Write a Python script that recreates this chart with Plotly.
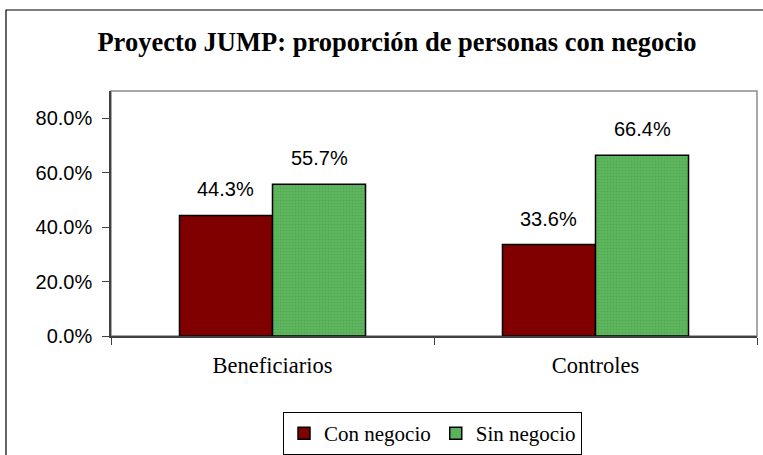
import plotly.graph_objects as go

categories = ["Beneficiarios", "Controles"]
con_negocio = [0.443, 0.336]
sin_negocio = [0.557, 0.664]
series_names = ["Con negocio", "Sin negocio"]
tick_vals = [0.0, 0.2, 0.4, 0.6, 0.8]

W, H = 763, 455
L, R, T, B = 111, 6, 91, 119
BARGAP = 0.424
SERIF = "Liberation Serif, Times New Roman, serif"
SANS = "Liberation Sans, Arial, sans-serif"

fig = go.Figure()
fig.add_trace(go.Bar(
    name=series_names[0], x=categories, y=con_negocio,
    marker=dict(color="#800000", line=dict(color="#000000", width=1.5)),
))
fig.add_trace(go.Bar(
    name=series_names[1], x=categories, y=sin_negocio,
    marker=dict(color="#5DB55D", line=dict(color="#000000", width=1.5),
                pattern=dict(shape=".", fgcolor="#449944", size=3, solidity=0.25, fillmode="overlay")),
))

# data labels placed at the bar tops via data coordinates
ann = []
nser = 2
bw = (1 - BARGAP) / nser
for j, vals in enumerate([con_negocio, sin_negocio]):
    for i, v in enumerate(vals):
        ann.append(dict(
            x=i + (-(1 - BARGAP) / 2 + bw * (j + 0.5)), y=v, xref="x", yref="y",
            text=f"{v*100:.1f}%", showarrow=False, yshift=26, yanchor="middle",
            font=dict(family=SANS, size=20, color="#000000"),
        ))

pw = W - L - R
ph = H - T - B
def px2x(px):
    return (px - L) / pw
def py2y(py):
    return (H - B - py) / ph

shapes = [
    # outer chart frame
    dict(type="rect", xref="paper", yref="paper",
         x0=px2x(6), x1=px2x(800), y0=py2y(470), y1=py2y(10),
         line=dict(color="#000000", width=1.2), layer="below"),
    # plot area border
    dict(type="rect", xref="paper", yref="paper", x0=0, x1=1, y0=0, y1=1,
         line=dict(color="#8c8c8c", width=1.5), layer="below"),
]

fig.update_layout(
    width=W, height=H,
    margin=dict(l=L, r=R, t=T, b=B, autoexpand=False),
    font=dict(family=SERIF, color="#000000"),
    paper_bgcolor="#ffffff", plot_bgcolor="#ffffff",
    barmode="group", bargap=BARGAP, bargroupgap=0,
    title=dict(text="<b>Proyecto JUMP: proporción de personas con negocio</b>",
               x=397 / W, xref="container", xanchor="center",
               y=1 - 42 / H, yref="container", yanchor="middle",
               font=dict(family=SERIF, size=26.5, color="#000000")),
    showlegend=True,
    legend=dict(orientation="h", x=432.5 / W, xref="container", xanchor="center",
                y=1 - 412 / H, yref="container", yanchor="top",
                bordercolor="#000000", borderwidth=1, bgcolor="#ffffff",
                font=dict(family=SERIF, size=21, color="#000000"),
                itemwidth=30, traceorder="normal"),
    annotations=ann,
    shapes=shapes,
)
fig.update_xaxes(
    type="category", showgrid=False, showline=True, linecolor="#404040", linewidth=1.5,
    ticks="outside", tickson="boundaries", ticklen=7, tickcolor="#404040", tickwidth=1.2,
    tickfont=dict(family=SERIF, size=22.5, color="#000000"),
    ticklabelstandoff=8, automargin=False,
)
fig.update_yaxes(
    range=[0, 0.9], tickvals=tick_vals, tickformat=".1%", showgrid=False, zeroline=False,
    showline=True, linecolor="#404040", linewidth=1.5,
    ticks="outside", ticklen=7, tickcolor="#404040", tickwidth=1.2,
    tickfont=dict(family=SANS, size=20, color="#000000"),
    ticklabelstandoff=6, automargin=False,
)

fig.write_html(
    "out.html",
    config={"displayModeBar": False},
    post_script="document.body.style.margin='0';document.body.style.overflow='hidden';",
)
